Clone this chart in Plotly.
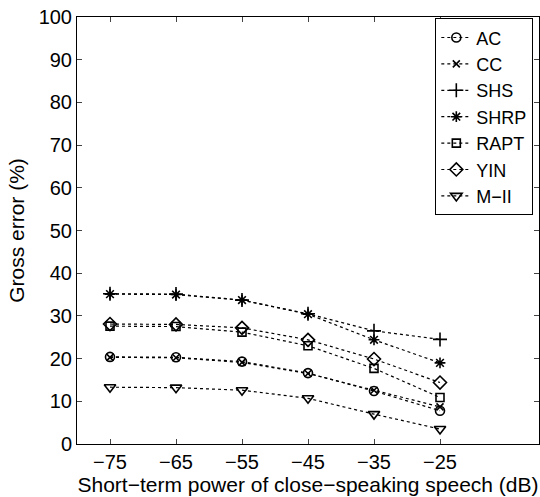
import plotly.graph_objects as go

power_db = [-75, -65, -55, -45, -35, -25]
series_names = ["AC", "CC", "SHS", "SHRP", "RAPT", "YIN", "M\u2212II"]
ac = [20.4, 20.3, 19.3, 16.6, 12.4, 7.8]
cc = [20.3, 20.2, 19.1, 16.5, 12.6, 8.7]
shs = [35.2, 35.1, 33.7, 30.5, 26.5, 24.5]
shrp = [35.1, 35.0, 33.7, 30.4, 24.4, 19.0]
rapt = [27.6, 27.5, 26.2, 23.0, 17.7, 10.9]
yin = [28.1, 28.0, 27.2, 24.4, 19.9, 14.4]
m2 = [13.3, 13.2, 12.6, 10.7, 7.0, 3.5]
x_ticks = [-75, -65, -55, -45, -35, -25]
y_ticks = [0, 10, 20, 30, 40, 50, 60, 70, 80, 90, 100]

series_values = [ac, cc, shs, shrp, rapt, yin, m2]
symbols = ["circle-open", "x-thin-open", "cross-thin-open", "asterisk-open",
           "square-open", "diamond-open", "triangle-down-open"]
sizes = [9, 7, 10, 9, 8, 10, 10]

fig = go.Figure()
for name, vals, sym, sz in zip(series_names, series_values, symbols, sizes):
    fig.add_trace(go.Scatter(
        x=power_db, y=vals, name=name, mode="lines+markers",
        line=dict(color="black", width=1.2, dash="dot"),
        marker=dict(symbol=sym, size=sz, color="black",
                    line=dict(color="black", width=1.6)),
    ))

fam = "Liberation Sans, Arial, sans-serif"
tick_font = dict(family=fam, size=20, color="black")
title_font = dict(family=fam, size=21, color="black")
fig.update_layout(
    width=540, height=497,
    margin=dict(l=77, r=1, t=17, b=53),
    paper_bgcolor="white", plot_bgcolor="white",
    font=tick_font,
    showlegend=True,
    legend=dict(x=0.9877, y=0.997, xanchor="right", yanchor="top",
                bordercolor="black", borderwidth=1, bgcolor="white",
                font=dict(family=fam, size=18, color="black"),
                itemwidth=30, tracegroupgap=0),
    xaxis=dict(range=[-80, -10], tickvals=x_ticks, ticks="inside", ticklen=5,
               showline=True, linecolor="black", linewidth=1, mirror="ticks",
               showgrid=False, zeroline=False, tickfont=tick_font,
               title=dict(text="Short\u2212term power of close\u2212speaking speech (dB)",
                          standoff=0, font=title_font)),
    yaxis=dict(range=[0, 100], tickvals=y_ticks, ticks="inside", ticklen=5,
               showline=True, linecolor="black", linewidth=1, mirror="ticks",
               showgrid=False, zeroline=False, tickfont=tick_font,
               title=dict(text="Gross error (%)", standoff=8, font=title_font)),
)

fig.write_html("out.html")
